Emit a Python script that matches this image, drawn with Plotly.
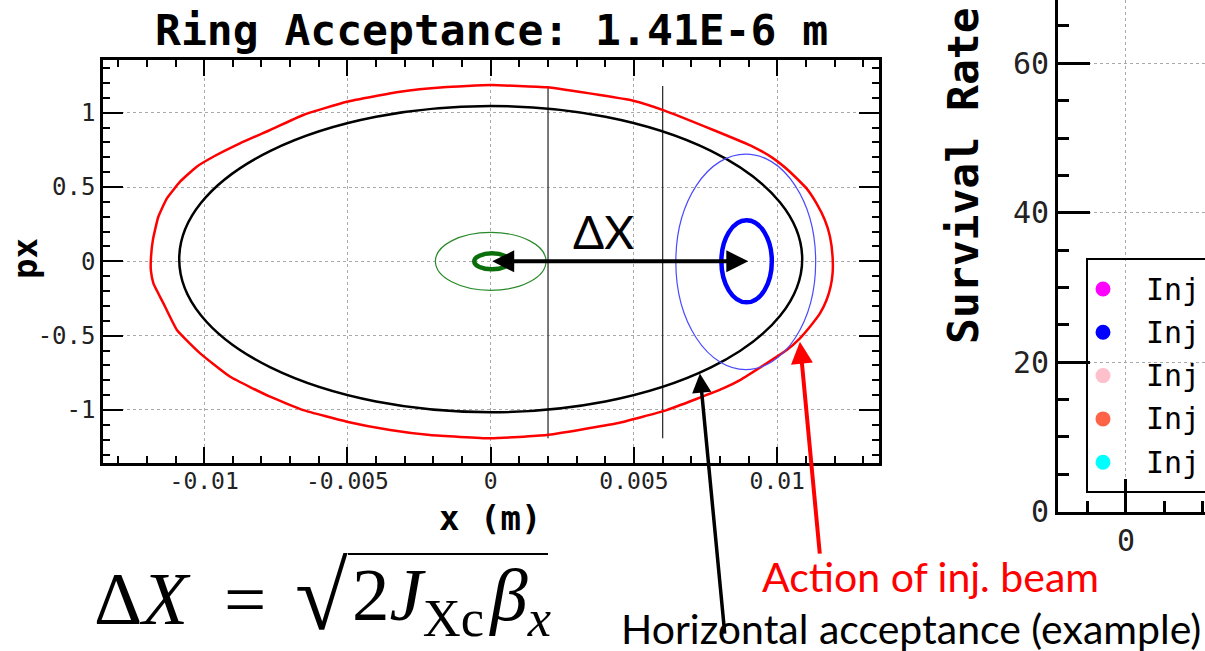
import plotly.graph_objects as go

W, H = 1205, 651          # reference picture size (all positions below are read in it)
FIG_H = 668               # the photographed page comes out squeezed to 651 rows

# --- left panel: horizontal phase space -------------------------------------
x_ticks = [-0.01, -0.005, 0, 0.005, 0.01]
x_ticktext = ["-0.01", "-0.005", "0", "0.005", "0.01"]
px_ticks = [-1, -0.5, 0, 0.5, 1]
px_ticktext = ["-1", "-0.5", "0", "0.5", "1"]

# action of injected beam (red contour)
red_x = [0.01193, 0.01184, 0.01166, 0.01137, 0.01102, 0.01044, 0.00986, 0.00916,
         0.00777, 0.00602, 0.00497, 0.00381, 0.00195, 0.0, -0.00165, -0.00316,
         -0.00502, -0.00654, -0.00770, -0.00875, -0.00968, -0.01026, -0.01084,
         -0.01130, -0.01160, -0.01179, -0.01186, -0.01186, -0.01177, -0.01142,
         -0.01095, -0.01014, -0.00909, -0.00770, -0.00654, -0.00502, -0.00351,
         -0.00212, 0.0, 0.00195, 0.00440, 0.00614, 0.00811, 0.00870, 0.00963,
         0.01033, 0.01079, 0.01114, 0.01149, 0.01172, 0.01186, 0.01193, 0.01193]
red_y = [0.031, 0.166, 0.278, 0.390, 0.491, 0.603, 0.693, 0.771, 0.884, 1.018,
         1.081, 1.119, 1.171, 1.186, 1.171, 1.141, 1.074, 0.985, 0.884, 0.794,
         0.704, 0.637, 0.536, 0.424, 0.300, 0.143, 0.009, -0.059, -0.148, -0.283,
         -0.462, -0.619, -0.777, -0.911, -1.001, -1.079, -1.135, -1.169, -1.191,
         -1.169, -1.090, -1.001, -0.855, -0.799, -0.686, -0.597, -0.518, -0.440,
         -0.350, -0.260, -0.171, -0.081, 0.031]

# ellipses: acceptance, circulating beam (thin/thick), injected beam (thin/thick)
ell_cx = [0.0, 0.0, 0.000045, 0.0089, 0.00893]
ell_cy = [0.015, 0.0, 0.0, -0.003, 0.0]
ell_a = [0.01087, 0.00193, 0.00062, 0.00244, 0.00088]
ell_b = [1.03, 0.195, 0.054, 0.725, 0.276]
ell_color = ["black", "#2a8a2a", "#0a6e0a", "#4a4aff", "#0000ff"]
ell_width = [2.5, 1.2, 4.5, 1.2, 4.5]

# septum positions
septum_x = [0.002, 0.006]
septum_lo = [-1.19, -1.19]
septum_hi = [1.18, 1.18]

# injection offset
dx_start = 0.0
dx_end = 0.00899

# --- right panel (cropped) ---------------------------------------------------
sr_ticks = [0, 20, 40, 60]
sr_x_ticks = [0]
legend_colors = ["#ff00ff", "#0000ff", "#ffc0cb", "#ff6347", "#00ffff"]
legend_labels = ["Inj", "Inj", "Inj", "Inj", "Inj"]

KY = FIG_H / H


def fx(p):
    return p / W


def fy(p):
    return 1 - p / H


mono = "DejaVu Sans Mono"
sans = "Lato"
serif = "Liberation Serif"

fig = go.Figure()

sx, sy = [], []
for xv, lo, hi in zip(septum_x, septum_lo, septum_hi):
    sx += [xv, xv, None]
    sy += [lo, hi, None]
fig.add_trace(go.Scatter(x=sx, y=sy, mode="lines", line=dict(color="#333", width=1.3),
                         showlegend=False, hoverinfo="skip"))

fig.add_trace(go.Scatter(x=red_x, y=red_y, mode="lines",
                         line=dict(color="#ff0000", width=2.5, shape="spline", smoothing=0.4),
                         showlegend=False))

# empty trace so the right subplot is created
fig.add_trace(go.Scatter(x=[], y=[], xaxis="x2", yaxis="y2", showlegend=False))

shapes = []
for cx, cy, a, b, c, w in zip(ell_cx, ell_cy, ell_a, ell_b, ell_color, ell_width):
    shapes.append(dict(type="circle", xref="x", yref="y", x0=cx - a, x1=cx + a,
                       y0=cy - b, y1=cy + b, line=dict(color=c, width=w)))

# legend box of right panel (runs off the edge)
shapes.append(dict(type="rect", xref="paper", yref="paper", x0=fx(1087), x1=fx(1260),
                   y0=fy(492), y1=fy(259), line=dict(color="black", width=2)))
for i, c in enumerate(legend_colors):
    yc = 289 + i * 43.3
    shapes.append(dict(type="circle", xref="paper", yref="paper",
                       x0=fx(1095.5), x1=fx(1110.5), y0=fy(yc + 7.5), y1=fy(yc - 7.5),
                       fillcolor=c, line=dict(width=0)))

# overline of the square root
shapes.append(dict(type="line", xref="paper", yref="paper", x0=fx(348), x1=fx(548),
                   y0=fy(554), y1=fy(554), line=dict(color="black", width=2.2)))

annotations = [
    dict(text="<b>Ring Acceptance: 1.41E-6 m</b>", x=fx(491), y=fy(30),
         font=dict(family=mono, size=43, color="black")),
    dict(text="<b>x (m)</b>", x=fx(490), y=fy(518), font=dict(family=mono, size=34, color="black")),
    dict(text="<b>px</b>", x=fx(25), y=fy(259), textangle=-90,
         font=dict(family=mono, size=34, color="black")),
    dict(text="<b>Survival Rate</b>", x=fx(963), y=fy(176), textangle=-90,
         font=dict(family=mono, size=43, color="black")),
    dict(text="ΔX", x=fx(603), y=fy(231), font=dict(family=sans, size=46, color="black")),
    dict(text="Action of inj. beam", x=fx(930), y=fy(576),
         font=dict(family=sans, size=41, color="#ff0000")),
    dict(text="Horizontal acceptance (example)", x=fx(911), y=fy(628),
         font=dict(family=sans, size=41, color="black")),
    dict(text="Δ<i>X</i>", x=fx(92), y=fy(598), xanchor="left",
         font=dict(family=serif, size=75, color="black")),
    dict(text="=", x=fx(245), y=fy(598), font=dict(family=serif, size=75, color="black")),
    dict(text="√", x=fx(293), y=fy(596), xanchor="left",
         font=dict(family=serif, size=96, color="black")),
    dict(text="2<i>J</i><sub>Xc</sub>\u200a<i>β</i><sub><i>x</i></sub>", x=fx(350), y=fy(600),
         xanchor="left", font=dict(family=serif, size=75, color="black")),
]
for i, t in enumerate(legend_labels):
    annotations.append(dict(text=t, x=fx(1144), y=fy(289 + i * 43.3), xanchor="left",
                            font=dict(family=mono, size=30, color="black")))
for a in annotations:
    a.setdefault("xref", "paper")
    a.setdefault("yref", "paper")
    a.setdefault("showarrow", False)
    a.setdefault("xanchor", "center")
    a.setdefault("yanchor", "middle")

# arrows
annotations += [
    dict(x=dx_end, y=0, ax=dx_start, ay=0, xref="x", yref="y", axref="x", ayref="y",
         text="", showarrow=True, arrowhead=2, arrowside="end+start", arrowsize=1.1,
         arrowwidth=4, arrowcolor="black"),
    dict(x=0.0073, y=-0.754, ax=25, ay=255 * KY, xref="x", yref="y", text="", showarrow=True,
         arrowhead=2, arrowsize=1.1, arrowwidth=3.5, arrowcolor="black"),
    dict(x=0.01079, y=-0.541, ax=20, ay=208 * KY, xref="x", yref="y", text="", showarrow=True,
         arrowhead=2, arrowsize=1.1, arrowwidth=4, arrowcolor="#ff0000"),
]

axis_common = dict(showline=True, linecolor="black", ticks="inside", tickcolor="black",
                   showgrid=True, gridcolor="#aaaaaa", griddash="dot", gridwidth=1,
                   zeroline=False, tickfont=dict(family=mono, color="#222"))

fig.update_layout(
    width=W, height=FIG_H, margin=dict(l=0, r=0, t=0, b=0),
    paper_bgcolor="white", plot_bgcolor="white", showlegend=False,
    xaxis=dict(axis_common, domain=[fx(103), fx(879)], range=[-0.01353, 0.01355],
               tickvals=x_ticks, ticktext=x_ticktext, ticklen=16 * KY, tickwidth=2,
               linewidth=2.5, mirror="ticks", anchor="y", tickfont_size=23,
               ticklabelstandoff=-4,
               minor=dict(ticks="inside", dtick=0.001, tick0=0, ticklen=7 * KY, tickwidth=2,
                          tickcolor="black", showgrid=False)),
    yaxis=dict(axis_common, domain=[fy(462.7), fy(60)], range=[-1.355, 1.355],
               tickvals=px_ticks, ticktext=px_ticktext, ticklen=20, tickwidth=2,
               linewidth=2.5, mirror="ticks", anchor="x", tickfont_size=24,
               minor=dict(ticks="inside", dtick=0.1, tick0=0, ticklen=7, tickwidth=2,
                          tickcolor="black", showgrid=False)),
    xaxis2=dict(axis_common, domain=[fx(1058), 1], range=[-1.775, 2.063],
                tickvals=sr_x_ticks, ticktext=["0"], ticklen=32 * KY, tickwidth=3,
                linewidth=3, anchor="y2", tickfont_size=30,
                minor=dict(ticks="inside", dtick=1, tick0=0, ticklen=10 * KY, tickwidth=2.5,
                           tickcolor="black", showgrid=False)),
    yaxis2=dict(axis_common, domain=[fy(511.7), 1], range=[0, 68.47],
                tickvals=sr_ticks, ticktext=[str(v) for v in sr_ticks], ticklen=32,
                tickwidth=3, linewidth=3, anchor="x2", tickfont_size=30,
                minor=dict(ticks="inside", dtick=5, tick0=0, ticklen=11, tickwidth=2.5,
                           tickcolor="black", showgrid=False)),
    shapes=shapes,
    annotations=annotations,
)

# page has a default 8px body margin; drop it so the figure sits at the window origin
fig.write_html("out.html", config={"displayModeBar": False},
               post_script="document.body.style.margin='0';")
